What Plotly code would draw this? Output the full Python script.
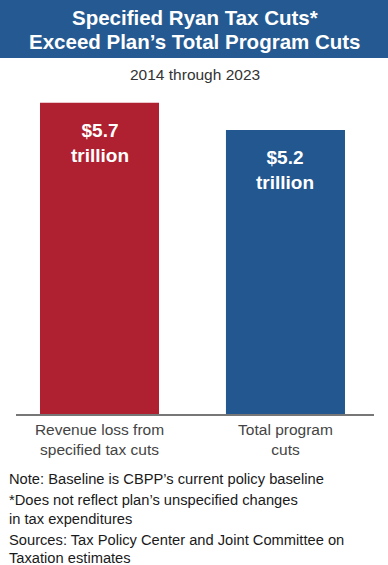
import plotly.graph_objects as go

categories = ["Revenue loss from<br>specified tax cuts", "Total program<br>cuts"]
values = [5.7, 5.2]
value_labels = ["$5.7<br>trillion", "$5.2<br>trillion"]
bar_colors = ["#AF2030", "#22578F"]
title_lines = ["Specified Ryan Tax Cuts*", "Exceed Plan\u2019s Total Program Cuts"]
subtitle = "2014 through 2023"
notes = [
    "Note: Baseline is CBPP\u2019s current policy baseline",
    "*Does not reflect plan\u2019s unspecified changes",
    "in tax expenditures",
    "Sources: Tax Policy Center and Joint Committee on",
    "Taxation estimates",
]

W, H = 388, 565
L, R, T, B = 16, 14, 95, 151
PW, PH = W - L - R, H - T - B
SANS = "Liberation Sans, Arial, Helvetica, sans-serif"


def px(x):
    return (x - L) / PW


def py(y):
    return (H - B - y) / PH


fig = go.Figure()
fig.add_trace(go.Bar(
    x=[0, 1], y=values, marker=dict(color=bar_colors, line=dict(width=0)),
    width=0.64, hoverinfo="skip",
))

annotations = []
for i, (v, t) in enumerate(zip(values, value_labels)):
    annotations.append(dict(
        x=i, y=v, xref="x", yref="y", text="<b>" + t + "</b>", showarrow=False,
        yanchor="top", yshift=-15, font=dict(family=SANS, size=19, color="white"),
    ))

annotations.append(dict(x=0.5, y=py(17), xref="paper", yref="paper", text="<b>" + title_lines[0] + "</b>",
                        showarrow=False, yanchor="middle", xanchor="center",
                        font=dict(family=SANS, size=20.5, color="white")))
annotations.append(dict(x=0.5, y=py(41), xref="paper", yref="paper", text="<b>" + title_lines[1] + "</b>",
                        showarrow=False, yanchor="middle", xanchor="center",
                        font=dict(family=SANS, size=20.5, color="white")))
annotations.append(dict(x=0.5, y=py(75), xref="paper", yref="paper", text=subtitle,
                        showarrow=False, yanchor="middle", xanchor="center",
                        font=dict(family=SANS, size=15.5, color="#333333")))

note_y = [479, 500, 519, 540, 558]
for t, yy in zip(notes, note_y):
    annotations.append(dict(x=px(7), y=py(yy), xref="paper", yref="paper", text=t,
                            showarrow=False, yanchor="middle", xanchor="left",
                            font=dict(family=SANS, size=14.7, color="#1a1a1a")))

shapes = [dict(type="rect", xref="paper", yref="paper", x0=px(0), x1=px(W), y0=py(58), y1=py(0),
               fillcolor="#245A91", line=dict(width=0), layer="below")]

fig.update_layout(
    width=W, height=H, margin=dict(l=L, r=R, t=T, b=B),
    paper_bgcolor="white", plot_bgcolor="white",
    showlegend=False, annotations=annotations, shapes=shapes,
    xaxis=dict(range=[-0.449, 1.476], tickvals=[0, 1], ticktext=categories,
               showgrid=False, zeroline=False, showline=True, linecolor="#777777", linewidth=2,
               ticks="", tickfont=dict(family=SANS, size=15.5, color="#444444")),
    yaxis=dict(range=[0, 5.842], visible=False, showgrid=False, zeroline=False),
)

fig.write_html("out.html", config={"displayModeBar": False},
               post_script="document.body.style.margin='0px';")
